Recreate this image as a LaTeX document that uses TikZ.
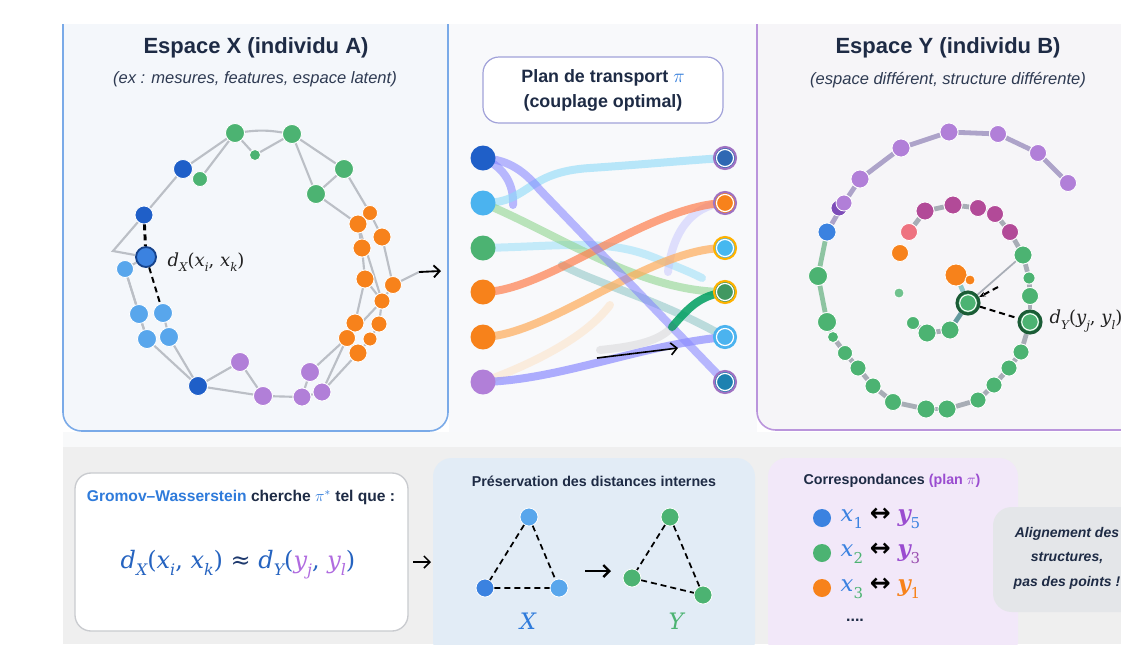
\documentclass[tikz,border=0pt]{standalone}
\usepackage{fontspec}
\setmainfont{Liberation Sans}
\newfontfamily\mser{DejaVu Serif}
\newfontfamily\msans{DejaVu Sans}
\usepackage{amsmath}
\usetikzlibrary{arrows.meta}
\pgfdeclarelayer{back}
\pgfdeclarelayer{links}
\pgfsetlayers{back,links,main}

% serif formulas: lowered small subscripts, upright punctuation and digits
\newcommand{\lowsub}[1]{\raisebox{-0.3em}{\scalebox{0.66}{#1}}}
\newcommand{\upc}[1]{{\upshape #1}}
\newcommand{\digsub}[1]{\lowsub{\upshape #1}}
\newcommand{\pairarrow}{\hspace{0.3em}{\msans\bfseries\upshape\scalebox{1.1}{↔}}\hspace{0.3em}}

\definecolor{ctext}{HTML}{1E2B45}
\definecolor{csub}{HTML}{2E3A52}
\definecolor{cdkblue}{HTML}{1F5FC8}
\definecolor{cblue}{HTML}{3B82E0}
\definecolor{clblue}{HTML}{58A6EC}
\definecolor{cgreen}{HTML}{4CB372}
\definecolor{corange}{HTML}{F7821B}
\definecolor{cpurple}{HTML}{B17FD8}
\definecolor{cdkpurple}{HTML}{7D4CB8}
\definecolor{cmagenta}{HTML}{B24A98}
\definecolor{csalmon}{HTML}{EE7280}
\definecolor{cedge}{HTML}{BBBFC6}
\definecolor{cspiral}{HTML}{A8ADB6}
\definecolor{cspurple}{HTML}{ADA3C9}
\definecolor{csgreen}{HTML}{8EC4A2}
\definecolor{cdkgreen}{HTML}{1B5C36}
\definecolor{cpanelX}{HTML}{F4F7FB}
\definecolor{cborderX}{HTML}{7AAAE8}
\definecolor{cpanelY}{HTML}{F6F5F8}
\definecolor{cborderY}{HTML}{BA95DC}
\definecolor{cmid}{HTML}{F8F9FB}
\definecolor{cstrip}{HTML}{F8F9FA}
\definecolor{cband}{HTML}{EFEFEF}
\definecolor{cboxblue}{HTML}{E2ECF6}
\definecolor{cboxlav}{HTML}{F2E8F9}
\definecolor{cboxgrey}{HTML}{E4E6E9}
\definecolor{cboxline}{HTML}{C9CBCF}
\definecolor{ctblue}{HTML}{2F7BDB}
\definecolor{ctpurple}{HTML}{9A4CD0}
\definecolor{fblue}{HTML}{2563C0}
\definecolor{fnavy}{HTML}{1F3A6E}
\definecolor{fpurple}{HTML}{B06BE0}
\definecolor{ymag}{HTML}{9B4FB0}
\definecolor{ink}{HTML}{222222}

\tikzset{
  ball/.style={circle, inner sep=0pt, minimum size=#1*0.75pt, draw=white, line width=0.6pt},
  ringball/.style 2 args={circle, inner sep=0pt, minimum size=22*0.75pt, fill=#1, draw=#2,
    line width=1.6pt, path picture={\draw[white, line width=0.9pt]
    (path picture bounding box.center) circle[radius=6.4pt];}},
  hlball/.style={circle, inner sep=0pt, minimum size=22*0.75pt, fill=cgreen, draw=cdkgreen,
    line width=2.3pt, path picture={\draw[white, line width=0.8pt]
    (path picture bounding box.center) circle[radius=6.2pt];}},
  graphedge/.style={draw=cedge, line width=1.6pt},
  spiraledge/.style={draw=#1, line width=3.6pt},
  flow/.style={line width=6pt, line cap=round, draw opacity=#1},
  distline/.style={draw=black, line width=1.5pt, dash pattern=on 4.5pt off 3pt},
  arrowlink/.style={draw=black, line width=1.4pt, -{Straight Barb[length=4.5pt, width=9pt]}},
  title/.style={font=\fontsize{16.5}{20}\selectfont\bfseries, text=ctext},
  subtitle/.style={font=\fontsize{12.4}{15}\selectfont\itshape, text=csub},
  boxtitle/.style={font=\fontsize{10.7}{13}\selectfont\bfseries, text=ctext},
  formula/.style={font=\mser\itshape\fontsize{#1}{#1}\selectfont},
}

\begin{document}
\begin{tikzpicture}[x=0.75pt, y=-0.75pt]
\useasboundingbox (0,0) rectangle (1121,644);

% ---------- backgrounds and panels ----------
\begin{pgfonlayer}{back}
  \fill[white] (0,0) rectangle (1121,644);
  \fill[cmid] (449,24) rectangle (757,432);
  \fill[cstrip] (63,432) rectangle (1121,447);
  \fill[cband] (63,447) rectangle (1121,644);
  \draw[fill=cpanelX, draw=cborderX, line width=1.2pt, rounded corners=14pt]
    (63,2) rectangle (448,431);
  \draw[fill=cpanelY, draw=cborderY, line width=1.2pt, rounded corners=14pt]
    (757,2) rectangle (1140,430);
  \fill[white] (0,0) rectangle (1121,23.5);
  \fill[white] (0,0) rectangle (62.4,644);
  % lower row of boxes
  \draw[fill=white, draw=cboxline, line width=1pt, rounded corners=12pt]
    (75,473) rectangle (408,631);
  \fill[cboxblue, rounded corners=14pt] (433,458) rectangle (755,660);
  \fill[cboxlav, rounded corners=14pt] (768,458) rectangle (1018,660);
  \fill[cboxgrey, rounded corners=14pt] (993,507) rectangle (1140,612);
\end{pgfonlayer}

% ---------- titles ----------
\node[title] (tX) at (256,48) {Espace X (individu A)};
\node[subtitle] (sX) at (255,79) {(ex : mesures, features, espace latent)};
\node[title] (tY) at (948,48) {Espace Y (individu B)};
\node[subtitle] (sY) at (948,80) {(espace différent, structure différente)};

% ---------- space X : graph ----------
\foreach \n/\x/\y/\d/\c in {
  xg1/235/133/19/cgreen, xg2/292/134/19/cgreen, xg3/255/155/11/cgreen,
  xg4/200/179/15/cgreen, xg5/344/169/19/cgreen, xg6/316/194/19/cgreen,
  xb1/183/169/19/cdkblue, xb2/144/215/18/cdkblue, xb4/198/386/19/cdkblue,
  xl1/125/269/17/clblue, xl2/139/314/19/clblue, xl3/163/313/19/clblue,
  xl4/147/339/19/clblue, xl5/169/337/19/clblue,
  xo1/370/213/15/corange, xo2/358/224/18/corange, xo3/382/237/18/corange,
  xo4/362/248/18/corange, xo5/365/279/18/corange, xo6/393/285/17/corange,
  xo7/382/301/16/corange, xo8/355/323/18/corange, xo9/379/324/16/corange,
  xo10/347/338/17/corange, xo11/370/339/14/corange, xo12/358/353/18/corange,
  xp1/240/362/19/cpurple, xp2/310/372/19/cpurple, xp3/263/396/19/cpurple,
  xp4/302/397/18/cpurple, xp5/322/392/18/cpurple}
  \node[ball=\d, fill=\c] (\n) at (\x,\y) {};
\node[circle, inner sep=0pt, minimum size=20*0.75pt, fill=cblue, draw=cdkblue!70!black,
  line width=1.4pt] (xb3) at (146,257) {};
\coordinate (xkink) at (113,251);
\coordinate (xout) at (419,272);
\coordinate (xoutend) at (441,271);

\node[anchor=west, formula=13.5, text=ink] (dX) at (163,262)
  {d\lowsub{X}\upc{(}x\lowsub{i}\upc{,} x\lowsub{k}\upc{)}};

\begin{pgfonlayer}{links}
  \foreach \a/\b in {xb1/xg1, xg1/xg4, xg1/xg3, xg3/xg2, xg2/xg5, xg2/xg6, xg5/xg6,
    xg6/xo2, xg5/xo1, xb1/xb2, xb3/xl1, xl1/xl2, xl1/xl4, xl2/xl4, xl3/xl5, xl4/xb4,
    xl5/xb4, xb4/xp1, xb4/xp3, xp1/xp3, xp3/xp4, xp4/xp2, xp4/xp5, xp5/xo12, xp5/xo10,
    xp2/xo10, xo1/xo2, xo1/xo3, xo2/xo4, xo4/xo5, xo5/xo8, xo8/xo10, xo3/xo6, xo6/xo7,
    xo7/xo9, xo9/xo11, xo11/xo12, xo2/xo7, xo5/xo7, xo7/xo10, xo10/xo12}
    \draw[graphedge] (\a) -- (\b);
  \draw[graphedge] (xg1) to[bend left=8] (xg2);
  \draw[graphedge] (xb2) -- (xkink) -- (xb3);
  \draw[graphedge] (xo6) -- (xout);
\end{pgfonlayer}
\draw[distline, line width=2.2pt] (xb2) -- (xb3);
\draw[distline] (xb3) -- (xl3);
\draw[arrowlink] (xout) -- (xoutend);

% ---------- transport plan ----------
\node[draw=cboxline!80!blue, fill=white, line width=0.9pt, rounded corners=12pt,
  minimum width=240*0.75pt, minimum height=66*0.75pt, align=center,
  font=\fontsize{13.4}{18.8}\selectfont\bfseries, text=ctext] (plan) at (603,90)
  {Plan de transport \textcolor{ctblue}{$\pi$}\\(couplage optimal)};

\foreach \n/\y/\c in {L1/158/cdkblue, L2/203/clblue!85!cyan, L3/248/cgreen,
  L4/292/corange, L5/337/corange, L6/382/cpurple}
  \node[ball=25, fill=\c, draw=none] (\n) at (483,\y) {};
\node[ringball={cblue!80!black}{cpurple!90!black}] (R1) at (725,158) {};
\node[ringball={corange}{cpurple!90!black}] (R2) at (725,203) {};
\node[ringball={clblue!80!cyan}{orange!60!yellow}] (R3) at (725,248) {};
\node[ringball={cgreen!85!black}{orange!60!yellow}] (R4) at (725,292) {};
\node[ringball={clblue!85!cyan}{clblue!85!cyan}] (R5) at (725,337) {};
\node[ringball={cblue!50!teal}{cpurple!90!black}] (R6) at (725,382) {};
\coordinate (fgreen) at (702,278);
\coordinate (fteal) at (562,265);
\coordinate (flav) at (668,272);
\coordinate (forange) at (610,305);
\coordinate (fdark) at (600,350);
\coordinate (fdarkmid) at (672,327);
\coordinate (parrs) at (597,358);
\coordinate (parre) at (678,348);

\begin{pgfonlayer}{links}
  \draw[flow=0.6, draw=blue!45!white] (L1.center) .. controls (505,168) and (514,185) .. (513,205);
  \draw[flow=0.55, draw=cyan!40!white] (L3.center) .. controls (570,246) and (610,238) .. (660,260)
    .. controls (680,268) and (690,272) .. (fgreen);
  \draw[flow=0.6, draw=cyan!45!white] (L2.center) .. controls (530,203) and (525,172) .. (590,168)
    .. controls (650,164) and (690,160) .. (R1.center);
  \draw[flow=0.6, draw=green!45!gray!60!white] (L2.center) .. controls (560,235) and (640,292) .. (R4.center);
  \draw[flow=0.5, draw=teal!50!white] (fteal) .. controls (600,285) and (660,300) .. (R5.center);
  \draw[flow=0.45, draw=blue!25!white] (R2.center) .. controls (690,205) and (672,235) .. (flav);
  \draw[flow=0.4, draw=orange!30!white] (L6.center) .. controls (510,372) and (580,345) .. (forange);
  \draw[flow=0.7, draw=red!45!orange!70!white] (L4.center) .. controls (545,292) and (650,205) .. (R2.center);
  \draw[flow=0.7, draw=orange!65!white] (L5.center) .. controls (550,335) and (650,248) .. (R3.center);
  \draw[flow=0.55, draw=blue!50!white] (L1.center) .. controls (510,160) and (525,172) .. (540,190) -- (R6.center);
  \draw[flow=0.85, draw=teal!75!green] (R4.center) .. controls (700,296) and (690,306) .. (fdarkmid);
  \draw[flow=0.15, draw=gray] (fdarkmid) .. controls (660,340) and (640,346) .. (fdark);
  \draw[flow=0.7, draw=blue!45!white] (L6.center) .. controls (560,380) and (640,345) .. (R5.center);
\end{pgfonlayer}
\draw[arrowlink, line width=1.2pt] (parrs) -- (parre);

% ---------- space Y : spiral ----------
\node[ball=16, fill=cdkpurple] (s7b) at (839,208) {};
\foreach \n/\x/\y/\d/\c in {
  s1/1068/183/17/cpurple, s2/1038/153/17/cpurple, s3/998/134/17/cpurple,
  s4/949/132/18/cpurple, s5/901/148/18/cpurple, s6/860/179/18/cpurple,
  s7/844/203/16/cpurple, s8/827/232/18/cblue, s9/818/276/19/cgreen,
  s10/827/322/19/cgreen, s11/833/337/11/cgreen, s12/845/353/15/cgreen,
  s13/858/368/16/cgreen, s14/873/386/16/cgreen, s15/893/402/17/cgreen,
  s16/926/409/18/cgreen, s17/947/409/18/cgreen, s18/978/400/16/cgreen,
  s19/994/385/16/cgreen, s20/1009/368/16/cgreen, s21/1021/352/16/cgreen,
  s23/1030/296/17/cgreen, s24/1029/278/12/cgreen, s25/1023/255/18/cgreen,
  s26/1010/232/17/cmagenta, s27/995/214/17/cmagenta, s28/978/208/17/cmagenta,
  s29/953/205/18/cmagenta, s30/925/211/18/cmagenta, s31/909/232/17/csalmon,
  s32/900/253/17/corange,
  t1/899/293/10/cgreen!80!white, t2/913/323/13/cgreen, t3/927/333/18/cgreen,
  t4/950/330/18/cgreen, t6/956/275/22/corange, t7/970/280/10/corange}
  \node[ball=\d, fill=\c] (\n) at (\x,\y) {};
\node[hlball] (s22) at (1030,322) {};
\node[hlball] (t5) at (968,303) {};
\coordinate (ydash) at (998,287);

\begin{pgfonlayer}{links}
  \foreach \a/\b in {s1/s2, s2/s3, s3/s4, s4/s5, s5/s6, s6/s7, s7/s8}
    \draw[spiraledge=cspurple] (\a) -- (\b);
  \foreach \a/\b in {s8/s9, s9/s10}
    \draw[spiraledge=csgreen] (\a) -- (\b);
  \foreach \a/\b in {s10/s11, s11/s12, s12/s13, s13/s14, s14/s15, s15/s16, s16/s17,
    s17/s18, s18/s19, s19/s20, s20/s21, s21/s22, s22/s23, s23/s24, s24/s25, s25/s26,
    s26/s27, s27/s28, s28/s29, s29/s30, s30/s31, t2/t3, t3/t4}
    \draw[spiraledge=cspiral] (\a) -- (\b);
  \draw[spiraledge=cspiral!60!teal] (t4) -- (t5);
  \draw[spiraledge=teal!45!white] (t5) -- (t6);
  \draw[draw=cspiral, line width=1.3pt] (s25) -- (t5);
\end{pgfonlayer}
\draw[distline, -{Stealth[length=5pt]}] (ydash) -- (t5);
\draw[distline] (t5) -- (s22);
\node[anchor=west, formula=13.5, text=ink] (dY) at (1045,321)
  {d\lowsub{Y}\upc{(}y\lowsub{j}\upc{,} y\lowsub{l}\upc{)}};

% ---------- Gromov-Wasserstein criterion ----------
\node[font=\fontsize{11.7}{14}\selectfont\bfseries, text=ctext] (gwt) at (241,497)
  {\textcolor{ctblue}{Gromov–Wasserstein} cherche \textcolor{ctblue}{$\pi^*$} tel que :};
\node[formula=18, text=fblue] (gwf) at (238,565)
  {d\lowsub{X}\upc{(}x\lowsub{i}\upc{,} x\lowsub{k}\upc{)}
   \textcolor{fnavy}{\upc{≈}}
   d\lowsub{Y}\upc{(}\textcolor{fpurple}{y\lowsub{j}}\upc{,} \textcolor{fpurple}{y\lowsub{l}}\upc{)}};
\coordinate (ga) at (413,562);
\coordinate (gb) at (431,562);
\draw[arrowlink, line width=1.1pt] (ga) -- (gb);

% ---------- preservation of internal distances ----------
\node[boxtitle] (pt) at (594,481) {Préservation des distances internes};
\node[ball=18, fill=clblue] (xa) at (529,517) {};
\node[ball=18, fill=cblue] (xbb) at (485,588) {};
\node[ball=18, fill=clblue] (xc) at (559,588) {};
\node[ball=18, fill=cgreen] (ya) at (670,517) {};
\node[ball=18, fill=cgreen] (yb) at (632,578) {};
\node[ball=18, fill=cgreen] (yc) at (703,595) {};
\draw[distline, line width=1.3pt] (xa) -- (xbb) (xa) -- (xc) (xbb) -- (xc);
\draw[distline, line width=1.3pt] (ya) -- (yb) (ya) -- (yc) (yb) -- (yc);
\node[formula=17, text=ctblue] (lX) at (528,621) {X};
\node[formula=17, text=cgreen] (lY) at (676,621) {Y};
\coordinate (pa) at (585,571);
\coordinate (pb) at (611,571);
\draw[arrowlink, line width=1.8pt] (pa) -- (pb);

% ---------- correspondences ----------
\node[boxtitle] (ct) at (892,481) {Correspondances \textcolor{ctpurple}{(plan $\pi$)}};
\node[ball=18, fill=cblue, draw=none] (c1) at (822,518) {};
\node[ball=18, fill=cgreen, draw=none] (c2) at (822,553) {};
\node[ball=18, fill=corange, draw=none] (c3) at (822,588) {};
\node[anchor=west, formula=17] (r1) at (836,518)
  {\textcolor{cblue}{x\digsub{1}}\pairarrow
   \textcolor{ctpurple}{\bfseries y}\textcolor{cblue}{\digsub{5}}};
\node[anchor=west, formula=17] (r2) at (836,553)
  {\textcolor{cblue}{x}\textcolor{cgreen}{\digsub{2}}\pairarrow
   \textcolor{ctpurple}{\bfseries y}\textcolor{ymag}{\digsub{3}}};
\node[anchor=west, formula=17] (r3) at (836,588)
  {\textcolor{cblue}{x}\textcolor{cgreen}{\digsub{3}}\pairarrow
   \textcolor{corange}{\bfseries y}\textcolor{corange}{\digsub{1}}};
\node[font=\fontsize{12}{14}\selectfont\bfseries, text=ctext] (cdots) at (855,620) {....};

% ---------- conclusion ----------
\node[align=center, font=\fontsize{10.5}{18.4}\selectfont\bfseries\itshape, text=ctext]
  (concl) at (1067,558) {Alignement des\\structures,\\pas des points !};

\end{tikzpicture}
\end{document}
